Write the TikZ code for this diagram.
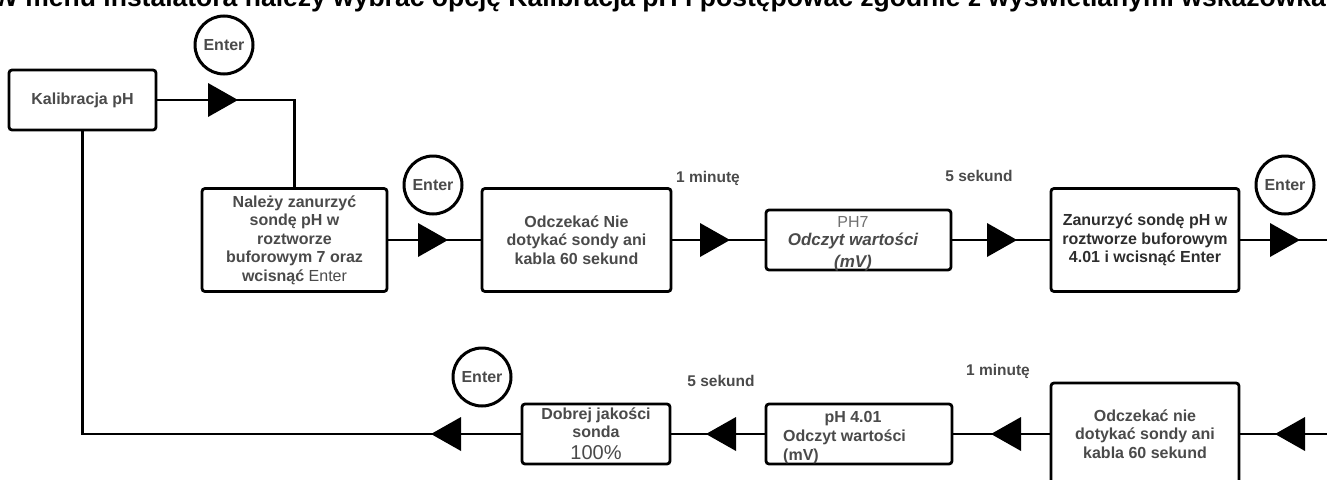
\documentclass[tikz,border=0pt]{standalone}
\usepackage{fontspec}
\setmainfont{Liberation Sans}
\definecolor{txt}{HTML}{4A4A4A}
\definecolor{txtdark}{HTML}{2E2E2E}
\definecolor{txtlight}{HTML}{707070}
\begin{document}
\begin{tikzpicture}[x=1pt,y=-1pt,
  stepbox/.style={draw=black, line width=2.8pt, rounded corners=3pt, fill=white,
    inner sep=0pt, align=center, text=txt,
    font=\fontsize{16}{18.5}\selectfont\bfseries},
  conn/.style={draw=black, line width=2.6pt},
  enterbtn/.style={circle, draw=black, line width=3pt, minimum size=58pt,
    inner sep=0pt, text=txt, font=\fontsize{16}{16}\selectfont\bfseries},
  lbl/.style={text=txt, inner sep=0pt, font=\fontsize{15.5}{16}\selectfont\bfseries},
  btxt/.style={text=txt, inner sep=0pt, font=\fontsize{16}{18}\selectfont\bfseries},
  tri/.style={fill=black}
]
\useasboundingbox (0,0) rectangle (1327,479);
\clip (0,0) rectangle (1327,479);

% heading line
\node[anchor=base east, inner sep=0pt, font=\fontsize{26.5}{30}\selectfont\bfseries]
  (title) at (1326,6)
  {W menu instalatora należy wybrać opcję Kalibracja pH i postępować zgodnie z wyświetlanymi wskazówka};

% upper row of steps
\node[stepbox, minimum width=147pt, minimum height=60pt] (K) at (82.5,100) {Kalibracja pH};
\node[stepbox, minimum width=185pt, minimum height=103pt] (B2) at (294.5,240)
  {Należy zanurzyć\\ sondę pH w\\ roztworze\\ buforowym 7 oraz\\ wcisnąć \textmd{Enter}};
\node[stepbox, minimum width=189pt, minimum height=103pt] (B3) at (576.5,240)
  {Odczekać Nie\\ dotykać sondy ani\\ kabla 60 sekund};
\node[stepbox, minimum width=185pt, minimum height=60pt] (B4) at (858.5,240) {};
\node[stepbox, minimum width=188pt, minimum height=103pt, text=txtdark] (B5) at (1145,240)
  {Zanurzyć sondę pH w\\ roztworze buforowym\\ 4.01 i wcisnąć Enter};

% lower row of steps
\node[stepbox, minimum width=188pt, minimum height=102pt] (B6) at (1145,434)
  {Odczekać nie\\ dotykać sondy ani\\ kabla 60 sekund};
\node[stepbox, minimum width=186pt, minimum height=60pt] (B7) at (859,434) {};
\node[stepbox, minimum width=148pt, minimum height=60pt] (B8) at (596,434) {};

% texts inside the reading boxes
\node[inner sep=0pt, text=txtlight, font=\fontsize{16}{18}\selectfont] (B4a) at (853,222) {PH7};
\node[btxt, font=\fontsize{17}{18}\selectfont\bfseries\itshape] (B4b) at (853,241) {Odczyt wartości};
\node[btxt, font=\fontsize{17}{18}\selectfont\bfseries\itshape] (B4c) at (853,263) {(mV)};

\node[btxt] (B7a) at (853,419) {pH 4.01};
\node[btxt, anchor=west] (B7b) at (783,437) {Odczyt wartości};
\node[btxt, anchor=west] (B7c) at (783,456) {(mV)};

\node[btxt] (B8a) at (596,415) {Dobrej jakości};
\node[btxt] (B8b) at (596,432) {sonda};
\node[inner sep=0pt, text=txt, font=\fontsize{20}{20}\selectfont] (B8c) at (596,453) {100\%};

% timing labels
\node[lbl] (m1) at (708,178) {1 minutę};
\node[lbl] (s1) at (979,176) {5 sekund};
\node[lbl] (s2) at (721,381) {5 sekund};
\node[lbl] (m2) at (998,371) {1 minutę};

% Enter buttons
\node[enterbtn] (E1) at (224,45) {Enter};
\node[enterbtn] (E2) at (433,185) {Enter};
\node[enterbtn] (E3) at (1285,185) {Enter};
\node[enterbtn] (E4) at (482,377) {Enter};

% connectors
\coordinate (R1) at (1332,240);
\coordinate (R2) at (1332,434);
\draw[conn] (K.east) -| (B2.north);
\draw[conn] (B2.east) -- (B3.west);
\draw[conn] (B3.east) -- (B4.west);
\draw[conn] (B4.east) -- (B5.west);
\draw[conn] (B5.east) -- (R1);
\draw[conn] (R2) -- (B6.east);
\draw[conn] (B6.west) -- (B7.east);
\draw[conn] (B7.west) -- (B8.east);
\draw[conn] (B8.west) -| (K.south);

% direction triangles (tips)
\coordinate (t1) at (238,100);
\coordinate (t2) at (448,240);
\coordinate (t3) at (730,240);
\coordinate (t4) at (1017,240);
\coordinate (t5) at (1300,240);
\coordinate (u1) at (1275,434);
\coordinate (u2) at (991,434);
\coordinate (u3) at (706,434);
\coordinate (u4) at (431,434);
\foreach \t in {t1,t2,t3,t4,t5}
  \fill[tri] (\t) -- ++(-30,-17) -- ++(0,34) -- cycle;
\foreach \t in {u1,u2,u3,u4}
  \fill[tri] (\t) -- ++(30,-17) -- ++(0,34) -- cycle;
\end{tikzpicture}
\end{document}
